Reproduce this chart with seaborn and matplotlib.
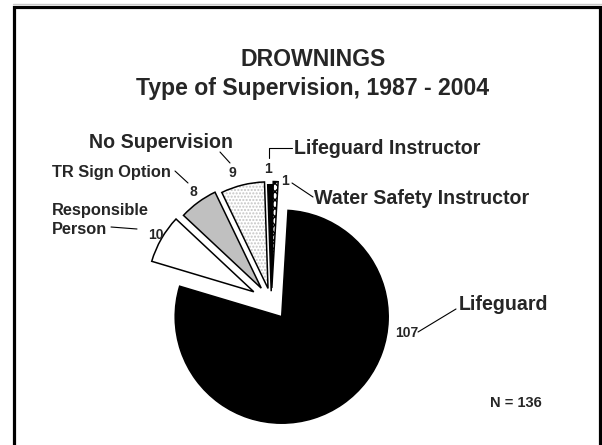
import numpy as np
import matplotlib.pyplot as plt
from matplotlib.patches import Rectangle, Wedge
import seaborn as sns

# drownings by type of supervision, 1987 - 2004
categories = ['Lifeguard', 'Responsible Person', 'TR Sign Option',
              'No Supervision', 'Lifeguard Instructor',
              'Water Safety Instructor']
counts = [107, 10, 8, 9, 1, 1]

# slice offsets (fraction of radius): each slice on its own, and the
# small slices pulled out together as one group
explode = [0, 0.19, 0.16, 0.13, 0.1, 0.13]
group_explode = 0.17
fills = ['black', 'white', '#c0c0c0', 'white', 'black', 'white']

sns.set_style('white')
plt.rcParams['font.family'] = ['Liberation Sans', 'DejaVu Sans']

W, H = 602, 445
R = 106.5
START = 86.6
fig = plt.figure(figsize=(W / 100, H / 100), dpi=100)
ax = fig.add_axes([0, 0, 1, 1])


def py(y):
    # image rows -> axes y (pixel units, origin bottom)
    return H - y


def label(x, y, s, size, ha='left'):
    ax.text(x, py(y), s, ha=ha, va='center', fontsize=size,
            fontweight='bold')


wedges, _ = ax.pie(counts, explode=[e * R for e in explode], colors=fills,
                   startangle=START, counterclock=False,
                   center=(281.7, py(316.7)), radius=R,
                   wedgeprops=dict(edgecolor='black', linewidth=1.1))

# move the small slices out as a group, along the middle of their span
small_share = sum(counts[1:]) / sum(counts)
group_mid = np.radians(START + 180 * small_share)
gx = group_explode * R * np.cos(group_mid)
gy = group_explode * R * np.sin(group_mid)
for w in wedges[1:]:
    cx, cy = w.center
    w.set_center((cx + gx, cy + gy))

# light dotted fill for "No Supervision"
ns = wedges[3]
ns.set_edgecolor('#c4c4c4')
ns.set_hatch('.....')
ns.set_linewidth(0)
ax.add_patch(Wedge(ns.center, ns.r, ns.theta1, ns.theta2, fill=False,
                   edgecolor='black', linewidth=1.1))
# cross hatch for "Water Safety Instructor"
wedges[5].set_hatch('xxxx')

ax.set_xlim(0, W)
ax.set_ylim(0, H)
ax.set_aspect('equal')
ax.axis('off')

# title
label(313, 59, 'DROWNINGS', 16.6, ha='center')
label(313, 88, 'Type of Supervision, 1987 - 2004', 16.6, ha='center')

# category labels
big = 14.1
small = 11.8
label(89, 142, categories[3], big)
label(294, 148, categories[4], big)
label(52, 173, categories[2], small)
label(52, 210, 'Responsible', small)
label(52, 229, 'Person', small)
label(314, 199, categories[5], big)
label(459, 305, categories[0], big)

# value labels
num = 10
value_pos = [(407, 333), (156, 235), (193, 192), (232, 173), (268, 169),
             (285, 181)]
for n, (x, y) in zip(counts, value_pos):
    label(x, y, str(n), num, ha='center')

# leader lines
leaders = [
    [(418, 332), (456, 309)],
    [(111, 227), (137, 229)],
    [(175, 171), (188, 183)],
    [(220, 152), (230, 163)],
    [(269, 158), (269, 148), (292, 148)],
    [(292, 183), (313, 197)],
]
for pts in leaders:
    xs = [p[0] for p in pts]
    ys = [py(p[1]) for p in pts]
    ax.plot(xs, ys, color='black', linewidth=0.8)

label(516, 403, 'N = 136', 10.5, ha='center')

# frame around the slide
ax.plot([13, W], [py(4), py(4)], color='#c8c8c8', linewidth=1)
ax.add_patch(Rectangle((14, -10), 586, py(6.5) + 10, fill=False,
                       edgecolor='black', linewidth=2.3, clip_on=False))

fig.savefig('out.png', dpi=100)
